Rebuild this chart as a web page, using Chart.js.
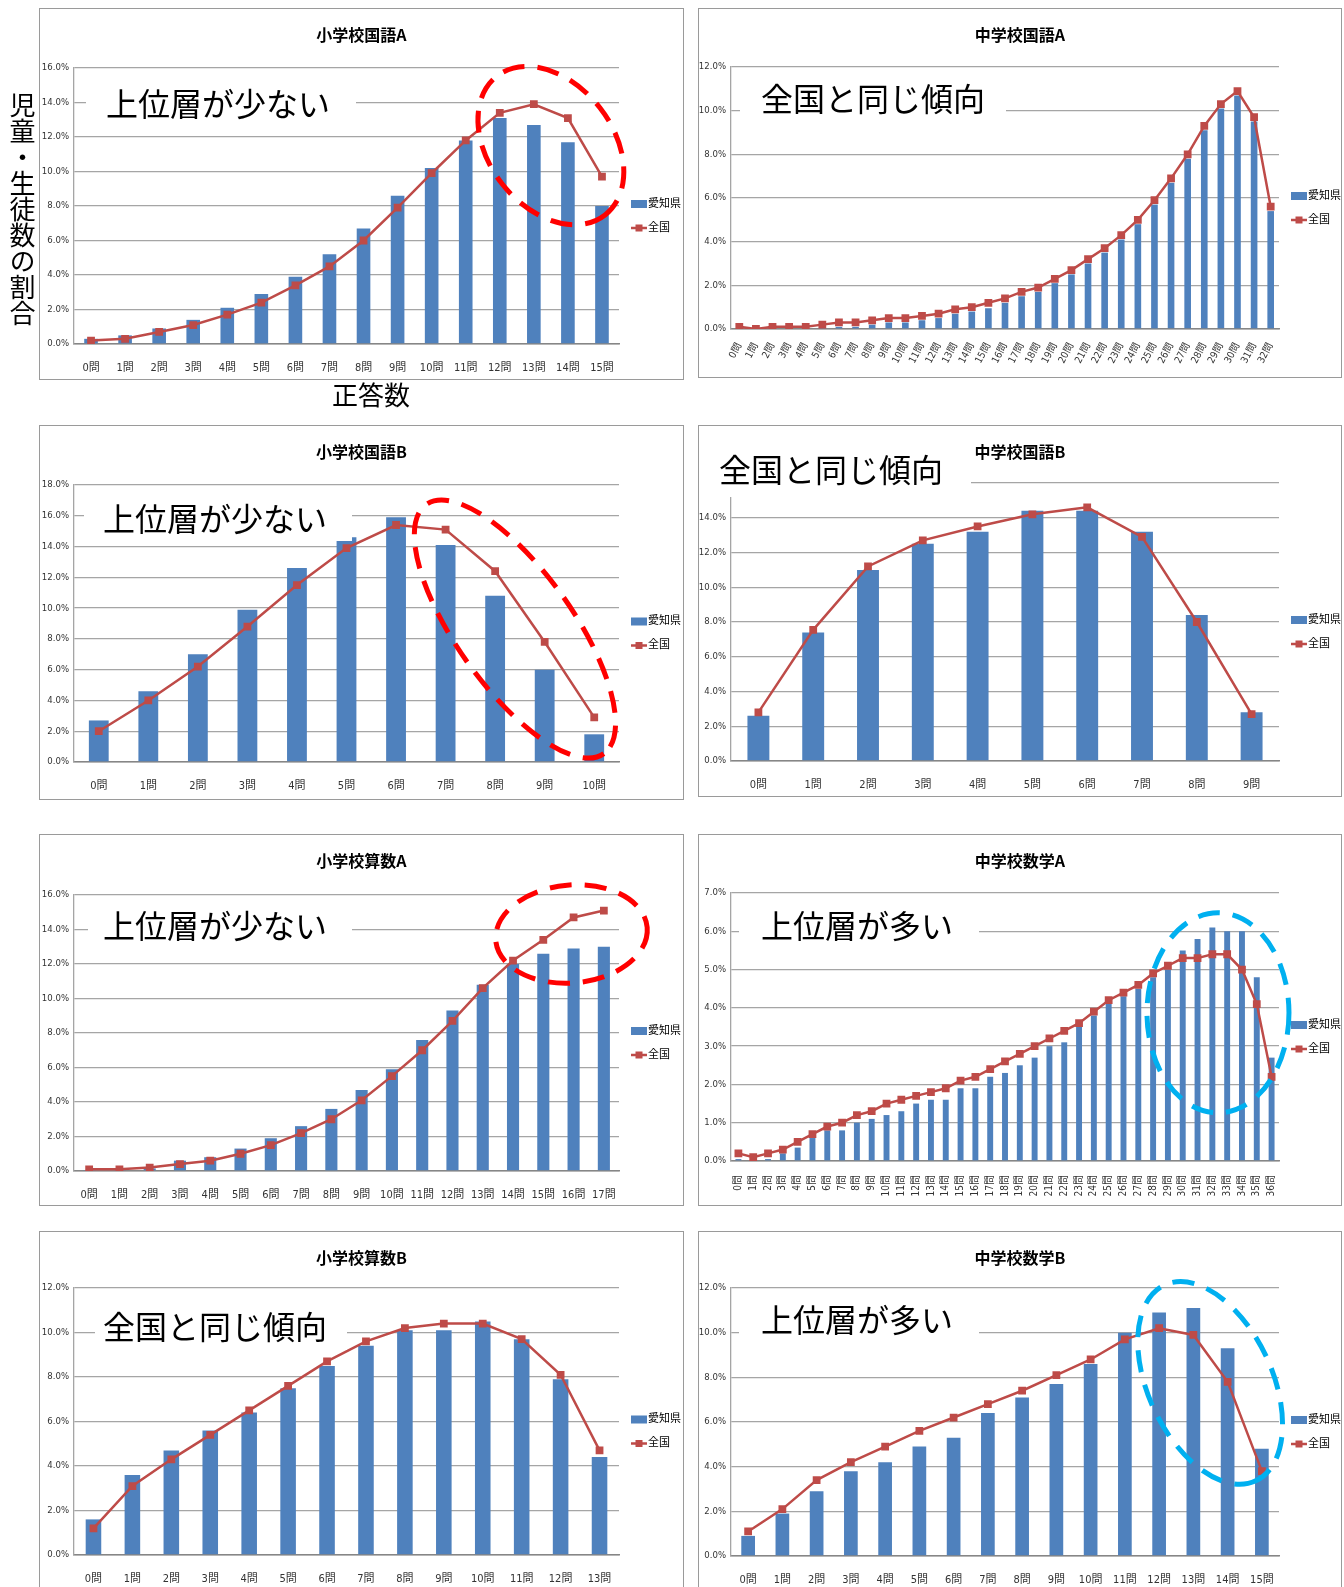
<!DOCTYPE html>
<html lang="ja">
<head>
<meta charset="utf-8">
<title>正答数分布 愛知県と全国</title>
<script src="https://cdn.jsdelivr.net/npm/chart.js@4.4.1/dist/chart.umd.min.js"></script>
<style>
  html, body { margin: 0; padding: 0; background: #fff; overflow: hidden; }
  body { width: 1344px; height: 1587px; position: relative; font-family: 'Noto Sans CJK JP', sans-serif; }
  .box { position: absolute; border: 1px solid #9a9a9a; background: #fff; }
  .box canvas { display: block; }
  #ylabel { position: absolute; left: 9px; top: 92px; writing-mode: vertical-rl; font-size: 26px; line-height: 26px; color: #000; }
  #xlabel { position: absolute; left: 332px; top: 380px; font-size: 26px; line-height: 28px; color: #000; }
</style>
</head>
<body>
<div class="box" style="left:39px;top:8px;width:643px;height:370px"><canvas id="c1" width="643" height="370"></canvas></div>
<div class="box" style="left:698px;top:8px;width:642px;height:368px"><canvas id="c2" width="642" height="368"></canvas></div>
<div class="box" style="left:39px;top:425px;width:643px;height:373px"><canvas id="c3" width="643" height="373"></canvas></div>
<div class="box" style="left:698px;top:425px;width:642px;height:370px"><canvas id="c4" width="642" height="370"></canvas></div>
<div class="box" style="left:39px;top:834px;width:643px;height:370px"><canvas id="c5" width="643" height="370"></canvas></div>
<div class="box" style="left:698px;top:834px;width:642px;height:370px"><canvas id="c6" width="642" height="370"></canvas></div>
<div class="box" style="left:39px;top:1231px;width:643px;height:370px"><canvas id="c7" width="643" height="370"></canvas></div>
<div class="box" style="left:698px;top:1231px;width:642px;height:370px"><canvas id="c8" width="642" height="370"></canvas></div>
<div id="ylabel">児童・生徒数の割合</div>
<div id="xlabel">正答数</div>
<script>
/* Category labels (number of correct answers) */
var Q_0_9 = ['0問','1問','2問','3問','4問','5問','6問','7問','8問','9問'];
var Q_0_10 = ['0問','1問','2問','3問','4問','5問','6問','7問','8問','9問','10問'];
var Q_0_13 = ['0問','1問','2問','3問','4問','5問','6問','7問','8問','9問','10問','11問','12問','13問'];
var Q_0_15 = ['0問','1問','2問','3問','4問','5問','6問','7問','8問','9問','10問','11問','12問','13問','14問','15問'];
var Q_0_17 = ['0問','1問','2問','3問','4問','5問','6問','7問','8問','9問','10問','11問','12問','13問','14問','15問','16問','17問'];
var Q_0_32 = ['0問','1問','2問','3問','4問','5問','6問','7問','8問','9問','10問','11問','12問','13問','14問','15問','16問',
  '17問','18問','19問','20問','21問','22問','23問','24問','25問','26問','27問','28問','29問','30問','31問','32問'];
var Q_0_36 = ['0問','1問','2問','3問','4問','5問','6問','7問','8問','9問','10問','11問','12問','13問','14問','15問','16問',
  '17問','18問','19問','20問','21問','22問','23問','24問','25問','26問','27問','28問','29問','30問','31問','32問',
  '33問','34問','35問','36問'];

var SERIES_NAMES = ['愛知県', '全国'];
var NOTE_FEW = '上位層が少ない';
var NOTE_SAME = '全国と同じ傾向';
var NOTE_MANY = '上位層が多い';

/* Share of pupils (%) : 愛知県 bars, 全国 line */
var AICHI_SHO_KOKUGO_A = [0.3, 0.5, 0.9, 1.4, 2.1, 2.9, 3.9, 5.2, 6.7, 8.6, 10.2, 11.8, 13.1, 12.7, 11.7, 8.0];
var ZENKOKU_SHO_KOKUGO_A = [0.2, 0.3, 0.7, 1.1, 1.7, 2.4, 3.4, 4.5, 6.0, 7.9, 9.9, 11.8, 13.4, 13.9, 13.1, 9.7];

var AICHI_CHU_KOKUGO_A = [0.05, 0.0, 0.05, 0.05, 0.05, 0.1, 0.1, 0.1, 0.2, 0.3, 0.3, 0.4, 0.5, 0.7, 0.8, 0.95, 1.2,
  1.5, 1.7, 2.1, 2.5, 3.0, 3.5, 4.1, 4.8, 5.7, 6.7, 7.8, 9.1, 10.1, 10.7, 9.5, 5.4];
var ZENKOKU_CHU_KOKUGO_A = [0.1, 0.0, 0.1, 0.1, 0.1, 0.2, 0.3, 0.3, 0.4, 0.5, 0.5, 0.6, 0.7, 0.9, 1.0, 1.2, 1.4,
  1.7, 1.9, 2.3, 2.7, 3.2, 3.7, 4.3, 5.0, 5.9, 6.9, 8.0, 9.3, 10.3, 10.9, 9.7, 5.6];

var AICHI_SHO_KOKUGO_B = [2.7, 4.6, 7.0, 9.9, 12.6, 14.6, 15.9, 14.1, 10.8, 6.0, 1.8];
var ZENKOKU_SHO_KOKUGO_B = [2.0, 4.0, 6.2, 8.8, 11.5, 13.9, 15.4, 15.1, 12.4, 7.8, 2.9];

var AICHI_CHU_KOKUGO_B = [2.6, 7.4, 11.0, 12.5, 13.2, 14.4, 14.4, 13.2, 8.4, 2.8];
var ZENKOKU_CHU_KOKUGO_B = [2.8, 7.55, 11.2, 12.7, 13.5, 14.2, 14.6, 12.9, 8.0, 2.7];

var AICHI_SHO_SANSU_A = [0.05, 0.05, 0.15, 0.6, 0.8, 1.3, 1.9, 2.6, 3.6, 4.7, 5.9, 7.6, 9.3, 10.8, 12.0, 12.6, 12.9, 13.0];
var ZENKOKU_SHO_SANSU_A = [0.1, 0.1, 0.2, 0.4, 0.6, 1.0, 1.5, 2.2, 3.0, 4.1, 5.5, 7.0, 8.7, 10.6, 12.2, 13.4, 14.7, 15.1];

var AICHI_CHU_SUGAKU_A = [0.05, 0.0, 0.05, 0.2, 0.35, 0.6, 0.8, 0.8, 1.0, 1.1, 1.2, 1.3, 1.5, 1.6, 1.6, 1.9, 1.9, 2.2,
  2.3, 2.5, 2.7, 3.0, 3.1, 3.5, 3.8, 4.1, 4.3, 4.5, 4.8, 5.0, 5.5, 5.8, 6.1, 6.0, 6.0, 4.8, 2.7];
var ZENKOKU_CHU_SUGAKU_A = [0.2, 0.1, 0.2, 0.3, 0.5, 0.7, 0.9, 1.0, 1.2, 1.3, 1.5, 1.6, 1.7, 1.8, 1.9, 2.1, 2.2, 2.4,
  2.6, 2.8, 3.0, 3.2, 3.4, 3.6, 3.9, 4.2, 4.4, 4.6, 4.9, 5.1, 5.3, 5.3, 5.4, 5.4, 5.0, 4.1, 2.2];

var AICHI_SHO_SANSU_B = [1.6, 3.6, 4.7, 5.6, 6.4, 7.5, 8.5, 9.4, 10.1, 10.1, 10.5, 9.7, 7.9, 4.4];
var ZENKOKU_SHO_SANSU_B = [1.2, 3.1, 4.3, 5.4, 6.5, 7.6, 8.7, 9.6, 10.2, 10.4, 10.4, 9.7, 8.1, 4.7];

var AICHI_CHU_SUGAKU_B = [0.9, 1.9, 2.9, 3.8, 4.2, 4.9, 5.3, 6.4, 7.1, 7.7, 8.6, 10.0, 10.9, 11.1, 9.3, 4.8];
var ZENKOKU_CHU_SUGAKU_B = [1.1, 2.1, 3.4, 4.2, 4.9, 5.6, 6.2, 6.8, 7.4, 8.1, 8.8, 9.7, 10.2, 9.9, 7.8, 3.8];

/* Colours */
var BAR_COLOUR = '#4F81BD';
var LINE_COLOUR = '#BE4B48';
var GRID_COLOUR = '#A5A5A5';
var RED_MARK = '#FF0000';
var BLUE_MARK = '#00B0F0';
var TICK_FONT = "'Liberation Sans Narrow','DejaVu Sans Condensed','Noto Sans CJK JP',sans-serif";
var JP_FONT = "'Noto Sans CJK JP',sans-serif";

/*
 * Plugin: legend on the right, white text box with the comment,
 * and the dashed ellipse that circles the top scorers.
 */
var decorPlugin = {
  id: 'decor',
  afterDraw: function(chart, args, opts) {
    var ctx = chart.ctx;
    var a = chart.chartArea;
    var mid = (a.top + a.bottom) / 2;
    var lx = a.right + 12;

    ctx.save();

    /* legend */
    ctx.fillStyle = BAR_COLOUR;
    ctx.fillRect(lx, mid - 6, 16, 8);
    ctx.strokeStyle = LINE_COLOUR;
    ctx.lineWidth = 2.5;
    ctx.beginPath();
    ctx.moveTo(lx, mid + 22);
    ctx.lineTo(lx + 16, mid + 22);
    ctx.stroke();
    ctx.fillStyle = LINE_COLOUR;
    ctx.fillRect(lx + 4.5, mid + 18.5, 7, 7);
    ctx.fillStyle = '#000';
    ctx.font = '11px ' + TICK_FONT;
    ctx.textAlign = 'left';
    ctx.textBaseline = 'middle';
    ctx.fillText(SERIES_NAMES[0], lx + 17, mid - 2);
    ctx.fillText(SERIES_NAMES[1], lx + 17, mid + 22);

    /* comment box */
    var n = opts.note;
    ctx.fillStyle = '#fff';
    ctx.fillRect(a.left + n.box[0], a.top + n.box[1], n.box[2], n.box[3]);
    ctx.fillStyle = '#000';
    ctx.font = '32px ' + JP_FONT;
    ctx.fillText(n.text, a.left + n.tx, a.top + n.ty);

    /* dashed ellipse, centred on a data position */
    var e = opts.ellipse;
    if (e) {
      var cx = chart.scales.x.getPixelForValue(e.x);
      var cy = chart.scales.y.getPixelForValue(e.y);
      ctx.strokeStyle = e.color;
      ctx.lineWidth = 5;
      ctx.setLineDash([22, 13]);
      ctx.beginPath();
      ctx.ellipse(cx, cy, e.rx, e.ry, e.rot * Math.PI / 180, 0, Math.PI * 2);
      ctx.stroke();
    }

    ctx.restore();
  }
};

function makeChart(id, title, labels, aichi, zenkoku, yMax, yStep, g, decor) {
  var canvas = document.getElementById(id);
  var W = canvas.width;
  var H = canvas.height;
  var rot = g.rot || 0;

  return new Chart(canvas.getContext('2d'), {
    data: {
      labels: labels,
      datasets: [
        {
          type: 'line',
          label: SERIES_NAMES[1],
          data: zenkoku,
          borderColor: LINE_COLOUR,
          backgroundColor: LINE_COLOUR,
          borderWidth: 2.5,
          pointStyle: 'rect',
          pointRadius: 5.5,
          pointBorderWidth: 0,
          tension: 0,
          order: 0
        },
        {
          type: 'bar',
          label: SERIES_NAMES[0],
          data: aichi,
          backgroundColor: BAR_COLOUR,
          barPercentage: 0.4,
          categoryPercentage: 1,
          order: 1
        }
      ]
    },
    options: {
      responsive: false,
      animation: false,
      devicePixelRatio: 1,
      layout: { padding: 0 },
      plugins: {
        legend: { display: false },
        tooltip: { enabled: false },
        title: {
          display: true,
          text: title,
          color: '#000',
          font: { family: JP_FONT, size: 16, weight: 'bold', lineHeight: 1.2 },
          padding: { top: 16, bottom: g.T - 16 - 19.2 }
        },
        decor: decor
      },
      scales: {
        x: {
          grid: { display: false },
          border: { color: '#868686', width: 1.5 },
          ticks: {
            autoSkip: false,
            minRotation: rot,
            maxRotation: rot,
            padding: g.xPad,
            color: '#333',
            font: { family: TICK_FONT, size: rot ? 10 : 11 }
          },
          afterFit: function(scale) { scale.height = H - g.B; }
        },
        y: {
          min: 0,
          max: yMax,
          grid: { color: GRID_COLOUR, lineWidth: 1.3, drawTicks: false },
          border: { color: GRID_COLOUR, width: 1.3 },
          ticks: {
            stepSize: yStep,
            padding: 5,
            color: '#333',
            font: { family: TICK_FONT, size: 9.5 },
            callback: function(v) { return v.toFixed(1) + '%'; }
          },
          afterFit: function(scale) { scale.width = g.L; }
        },
        /* empty right-hand strip that holds the legend */
        legendSpace: {
          type: 'linear',
          position: 'right',
          grid: { display: false },
          border: { display: false },
          ticks: { display: false },
          afterFit: function(scale) { scale.width = W - g.R; }
        }
      }
    },
    plugins: [decorPlugin]
  });
}

makeChart('c1', '小学校国語A', Q_0_15, AICHI_SHO_KOKUGO_A, ZENKOKU_SHO_KOKUGO_A, 16, 2,
  { L: 34, R: 579, T: 59, B: 335, xPad: 10 },
  { note: { text: NOTE_FEW, box: [12, 14, 270, 45], tx: 32, ty: 36 },
    ellipse: { x: 13.5, y: 11.5, rx: 88, ry: 62, rot: 52, color: RED_MARK } });

makeChart('c2', '中学校国語A', Q_0_32, AICHI_CHU_KOKUGO_A, ZENKOKU_CHU_KOKUGO_A, 12, 2,
  { L: 32, R: 580, T: 58, B: 320, xPad: 4, rot: 62 },
  { note: { text: NOTE_SAME, box: [9, 11, 266, 44], tx: 30, ty: 32 } });

makeChart('c3', '小学校国語B', Q_0_10, AICHI_SHO_KOKUGO_B, ZENKOKU_SHO_KOKUGO_B, 18, 2,
  { L: 34, R: 579, T: 59, B: 336, xPad: 10 },
  { note: { text: NOTE_FEW, box: [10, 12, 268, 44], tx: 29, ty: 34 },
    ellipse: { x: 8.4, y: 8.64, rx: 153, ry: 58, rot: 54.5, color: RED_MARK } });

makeChart('c4', '中学校国語B', Q_0_9, AICHI_CHU_KOKUGO_B, ZENKOKU_CHU_KOKUGO_B, 16, 2,
  { L: 32, R: 580, T: 57, B: 335, xPad: 10 },
  { note: { text: NOTE_SAME, box: [-32, -46, 272, 60], tx: -12, ty: -13 } });

makeChart('c5', '小学校算数A', Q_0_17, AICHI_SHO_SANSU_A, ZENKOKU_SHO_SANSU_A, 16, 2,
  { L: 34, R: 579, T: 60, B: 336, xPad: 10 },
  { note: { text: NOTE_FEW, box: [14, 10, 264, 44], tx: 29, ty: 31 },
    ellipse: { x: 15.93, y: 13.74, rx: 76, ry: 49, rot: -5, color: RED_MARK } });

makeChart('c6', '中学校数学A', Q_0_36, AICHI_CHU_SUGAKU_A, ZENKOKU_CHU_SUGAKU_A, 7, 1,
  { L: 32, R: 580, T: 58, B: 326, xPad: 6, rot: 90 },
  { note: { text: NOTE_MANY, box: [8, 12, 240, 44], tx: 30, ty: 33 },
    ellipse: { x: 32.38, y: 3.87, rx: 71, ry: 100, rot: 0, color: BLUE_MARK } });

makeChart('c7', '小学校算数B', Q_0_13, AICHI_SHO_SANSU_B, ZENKOKU_SHO_SANSU_B, 12, 2,
  { L: 34, R: 579, T: 56, B: 323, xPad: 10 },
  { note: { text: NOTE_SAME, box: [21, 16, 252, 46], tx: 29, ty: 39 } });

makeChart('c8', '中学校数学B', Q_0_15, AICHI_CHU_SUGAKU_B, ZENKOKU_CHU_SUGAKU_B, 12, 2,
  { L: 32, R: 580, T: 56, B: 324, xPad: 10 },
  { note: { text: NOTE_MANY, box: [8, 10, 240, 46], tx: 30, ty: 32 },
    ellipse: { x: 13.49, y: 7.75, rx: 108, ry: 62, rot: 65, color: BLUE_MARK } });
</script>
</body>
</html>
